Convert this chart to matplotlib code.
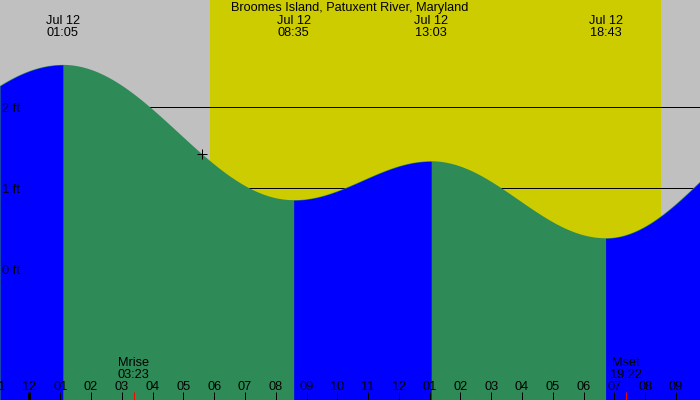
import matplotlib
matplotlib.use('Agg')
import matplotlib.pyplot as plt
import matplotlib.transforms as mtransforms
import numpy as np

plt.rcParams['font.family'] = ['Liberation Sans', 'DejaVu Sans']

title = 'Broomes Island, Patuxent River, Maryland'
date_label = 'Jul 12'

# tide extremes, hours after midnight Jul 12 (first and last lie off the chart)
tide_hours = [-6.2, 1.083, 8.583, 13.05, 18.717, 25.2]
tide_feet = [1.09, 2.52, 0.85, 1.33, 0.38, 1.90]
tide_labels = ['', '01:05', '08:35', '13:03', '18:43', '']

sun_rise = 5.867   # 05:52
sun_set = 20.517   # 20:31

moon_hours = [3.383, 19.367]
moon_names = ['Mrise', 'Mset']
moon_times = ['03:23', '19:22']

now_hour = 5.6

level_lines = [0, 1, 2]
level_labels = ['0 ft', '1 ft', '2 ft']

hour_ticks = list(range(-1, 22))
hour_labels = ['11', '12', '01', '02', '03', '04', '05', '06', '07', '08', '09', '10',
               '11', '12', '01', '02', '03', '04', '05', '06', '07', '08', '09']
midnight = 0

# colours
GRAY = '#c0c0c0'
DAY = '#cccc00'
RISE = '#0000ff'
FALL = '#2e8b57'

# view window (hours / feet)
x_min, x_max = -0.9584, 21.784
y_min, y_max = -1.617, 3.321
H = 400.0  # figure height in px


def tide_at(t):
    t = np.atleast_1d(np.asarray(t, dtype=float))
    h = np.zeros_like(t)
    for i in range(len(tide_hours) - 1):
        t0, t1 = tide_hours[i], tide_hours[i + 1]
        h0, h1 = tide_feet[i], tide_feet[i + 1]
        m = (t >= t0) & (t <= t1)
        frac = (1 - np.cos(np.pi * (t[m] - t0) / (t1 - t0))) / 2
        h[m] = h0 + (h1 - h0) * frac
    return h


fig = plt.figure(figsize=(7, 4), dpi=100, facecolor=GRAY)
ax = fig.add_axes([0, 0, 1, 1])
ax.set_xlim(x_min, x_max)
ax.set_ylim(y_min, y_max)
ax.axis('off')

# daylight
ax.axvspan(sun_rise, sun_set, color=DAY, lw=0, zorder=0.5)

# level lines behind the water
for lev in level_lines:
    ax.axhline(lev, color='black', lw=0.72, zorder=1)

# water: whole curve green, rising parts blue on top
tt = np.linspace(x_min, x_max, 1500)
ax.fill_between(tt, y_min, tide_at(tt), color=FALL, lw=0, zorder=2)
for i in range(len(tide_hours) - 1):
    if tide_feet[i + 1] > tide_feet[i]:
        a = max(tide_hours[i], x_min)
        b = min(tide_hours[i + 1], x_max)
        if b <= a:
            continue
        ts = np.linspace(a, b, 400)
        ax.fill_between(ts, y_min, tide_at(ts), color=RISE, lw=0, zorder=2.1)

# current time marker
ax.plot([now_hour], tide_at(now_hour), marker='+', color='black',
        markersize=6.5, mew=0.72, zorder=4)

xd_ya = mtransforms.blended_transform_factory(ax.transData, ax.transAxes)
xa_yd = mtransforms.blended_transform_factory(ax.transAxes, ax.transData)
fs = 9.2

ax.text(0.5, 1 - 11 / H, title, transform=ax.transAxes, ha='center',
        va='baseline', fontsize=fs, zorder=5)

for t, lab in zip(tide_hours, tide_labels):
    if not lab:
        continue
    ax.text(t, 1 - 24.3 / H, date_label, transform=xd_ya, ha='center',
            va='baseline', fontsize=fs, zorder=5)
    ax.text(t, 1 - 36 / H, lab, transform=xd_ya, ha='center',
            va='baseline', fontsize=fs, zorder=5)

for lev, lab in zip(level_lines, level_labels):
    tr = mtransforms.offset_copy(xa_yd, fig=fig, y=-4.5, units='dots')
    ax.text(2 / 700, lev, lab, transform=tr, ha='left', va='baseline',
            fontsize=fs, zorder=5)

# hour ticks and labels along the bottom
for h, lab in zip(hour_ticks, hour_labels):
    lw = 2.16 if h == midnight else 0.72
    ax.plot([h, h], [0, 8 / H], color='black', lw=lw, transform=xd_ya,
            solid_capstyle='butt', zorder=5)
    ax.text(h, 1 - 390 / H, lab, transform=xd_ya, ha='center',
            va='baseline', fontsize=fs, zorder=5)

for h, name, tm in zip(moon_hours, moon_names, moon_times):
    ax.plot([h, h], [0, 8 / H], color='red', lw=0.72, transform=xd_ya,
            solid_capstyle='butt', zorder=5)
    ax.text(h, 1 - 366 / H, name, transform=xd_ya, ha='center',
            va='baseline', fontsize=fs, zorder=5)
    ax.text(h, 1 - 378.3 / H, tm, transform=xd_ya, ha='center',
            va='baseline', fontsize=fs, zorder=5)

fig.savefig('out.png', dpi=100, facecolor=GRAY)
